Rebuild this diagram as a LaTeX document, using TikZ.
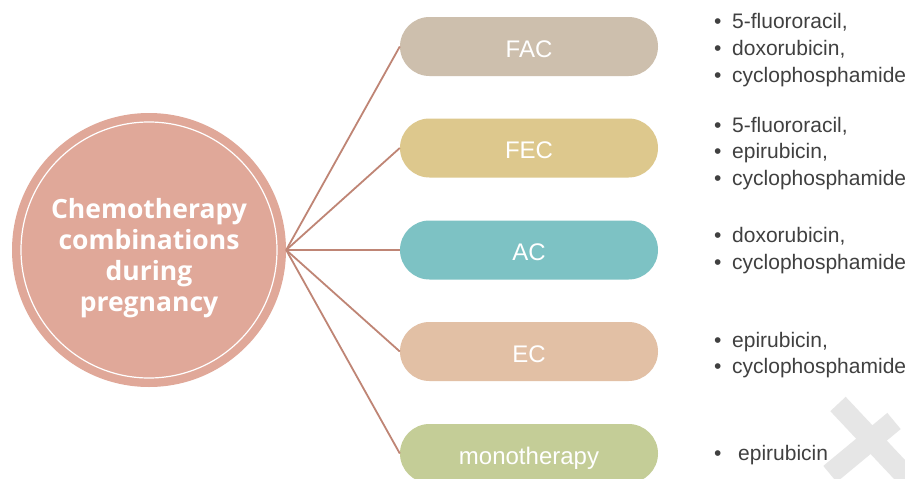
\documentclass[tikz,border=0pt]{standalone}
\usepackage{fontspec}
\setmainfont{Liberation Sans}
\newfontfamily\hubfont{Open Sans}
\definecolor{hubfill}{HTML}{E0A899}
\definecolor{linkcol}{HTML}{BF8575}
\definecolor{facfill}{HTML}{CDBFAD}
\definecolor{fecfill}{HTML}{DDC88D}
\definecolor{acfill}{HTML}{7DC2C4}
\definecolor{ecfill}{HTML}{E2C0A5}
\definecolor{monofill}{HTML}{C4CD97}
\definecolor{itemtext}{HTML}{404040}
\definecolor{markgray}{HTML}{E6E6E6}
\begin{document}
\begin{tikzpicture}[x=1pt,y=-1pt,
  hub/.style={circle,fill=hubfill,minimum size=274pt,inner sep=0pt},
  regimen/.style={rounded corners=29.5pt,minimum width=258pt,minimum height=59pt,
    inner sep=0pt,text=white,text height=21pt,text depth=0pt,
    font=\fontsize{24}{28}\selectfont},
  link/.style={draw=linkcol,line width=1.8pt},
  drug/.style={anchor=base west,inner sep=0pt,text=itemtext,font=\fontsize{21}{26}\selectfont},
  xbar/.style={draw=markgray,line width=21pt}
]
\useasboundingbox (0,0) rectangle (905,479);
\fill[white] (0,0) rectangle (905,479);

% faint cross mark in the lower right corner
\draw[xbar] (838,404) -- (915,486);
\draw[xbar] (894,421) -- (830,474);

% central circle with inner white ring
\node[hub] (hub) at (149,250) {};
\draw[white,line width=1.2pt] (hub.center) circle[radius=128pt];
\node[text=white,align=center,inner sep=0pt,
  font=\hubfont\bfseries\fontsize{26.5}{31}\selectfont] (hubtext) at (149,258)
  {Chemotherapy\\combinations\\during\\pregnancy};

% regimens
\node[regimen,fill=facfill]  (fac)  at (529,46.5)  {FAC};
\node[regimen,fill=fecfill]  (fec)  at (529,148)   {FEC};
\node[regimen,fill=acfill]   (ac)   at (529,250)   {AC};
\node[regimen,fill=ecfill]   (ec)   at (529,351.5) {EC};
\node[regimen,fill=monofill] (mono) at (529,453.5) {monotherapy};

% connectors
\foreach \b in {fac,fec,ac,ec,mono}
  \draw[link] (hub.east) -- (\b.west);

% drug lists
\newcommand{\bul}[1]{\makebox[18pt][l]{\textbullet}#1}
\node[drug] (fac1) at (714,28)  {\bul{5-fluororacil,}};
\node[drug] (fac2) at (714,55)  {\bul{doxorubicin,}};
\node[drug] (fac3) at (714,82)  {\bul{cyclophosphamide}};
\node[drug] (fec1) at (714,132) {\bul{5-fluororacil,}};
\node[drug] (fec2) at (714,158.5) {\bul{epirubicin,}};
\node[drug] (fec3) at (714,185) {\bul{cyclophosphamide}};
\node[drug] (ac1)  at (714,242) {\bul{doxorubicin,}};
\node[drug] (ac2)  at (714,269) {\bul{cyclophosphamide}};
\node[drug] (ec1)  at (714,347) {\bul{epirubicin,}};
\node[drug] (ec2)  at (714,373) {\bul{cyclophosphamide}};
\node[drug] (mono1) at (714,460) {\makebox[24pt][l]{\textbullet}epirubicin};
\end{tikzpicture}
\end{document}
